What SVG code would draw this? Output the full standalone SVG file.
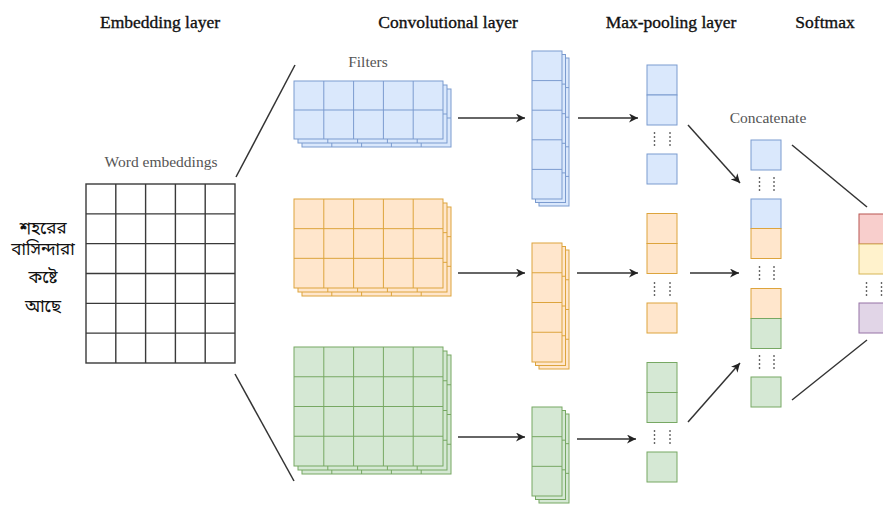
<svg xmlns="http://www.w3.org/2000/svg" xmlns:xlink="http://www.w3.org/1999/xlink" width="883" height="506" viewBox="0 0 883 506">
<style>
.hd{font-family:"Liberation Serif","Times New Roman",serif;font-size:17.5px;fill:#111;stroke:#111;stroke-width:0.35;text-anchor:middle}
.lb{font-family:"Liberation Serif","Times New Roman",serif;font-size:15.5px;fill:#555;text-anchor:middle}
.bn{font-family:"Noto Sans Bengali","Noto Sans","Noto Serif Bengali",sans-serif;font-size:17px;fill:#111;text-anchor:middle}
.b{fill:#dae8fc;stroke:#7b9bcf;stroke-width:1}
.o{fill:#ffe6cc;stroke:#dda43c;stroke-width:1}
.g{fill:#d5e8d4;stroke:#77a863;stroke-width:1}
.r{fill:#f8cecc;stroke:#b85450;stroke-width:1}
.y{fill:#fff2cc;stroke:#d6b656;stroke-width:1}
.p{fill:#e1d5e7;stroke:#9673a6;stroke-width:1}
.gl{fill:none}
.emb{fill:#fff;stroke:#3a3a3a;stroke-width:1.4}
.ln{stroke:#333;stroke-width:1.5;fill:none}
.ar{stroke:#333;stroke-width:1.5;fill:none;marker-end:url(#ah)}
.dt{stroke:#666;stroke-width:1.4;stroke-dasharray:2 2;fill:none}
</style>
<defs>
<marker id="ah" viewBox="0 0 10 10" refX="10" refY="5" markerWidth="9" markerHeight="9" markerUnits="userSpaceOnUse" orient="auto">
<path d="M0 0L10 5L0 10L3 5z" fill="#222"/>
</marker>
<g id="fB"><rect width="149" height="58"/><path class="gl" d="M29.8 0v58M59.6 0v58M89.4 0v58M119.2 0v58M0 29h149"/></g>
<g id="fO"><rect width="149" height="89"/><path class="gl" d="M29.8 0v89M59.6 0v89M89.4 0v89M119.2 0v89M0 29.67h149M0 59.33h149"/></g>
<g id="fG"><rect width="149" height="119"/><path class="gl" d="M29.8 0v119M59.6 0v119M89.4 0v119M119.2 0v119M0 29.75h149M0 59.5h149M0 89.25h149"/></g>
<g id="cB"><rect width="30" height="148"/><path class="gl" d="M0 29.6h30M0 59.2h30M0 88.8h30M0 118.4h30"/></g>
<g id="cO"><rect width="30" height="119"/><path class="gl" d="M0 29.75h30M0 59.5h30M0 89.25h30"/></g>
<g id="cG"><rect width="30" height="89"/><path class="gl" d="M0 29.67h30M0 59.33h30"/></g>
</defs>
<rect width="883" height="506" fill="#fff"/>

<g id="headers">
<text class="hd" x="160" y="28">Embedding layer</text>
<text class="hd" x="448" y="28">Convolutional layer</text>
<text class="hd" x="671" y="28">Max-pooling layer</text>
<text class="hd" x="825" y="28">Softmax</text>
</g>

<g id="sentence">
<text class="bn" x="43" y="234">শহরের</text>
<text class="bn" x="43" y="255">বাসিন্দারা</text>
<text class="bn" x="43" y="283">কষ্টে</text>
<text class="bn" x="43" y="312">আছে</text>
</g>

<g id="embedding">
<text class="lb" x="161" y="167">Word embeddings</text>
<rect class="emb" x="86" y="184" width="149" height="179"/>
<path class="emb" d="M115.8 184v179M145.6 184v179M175.4 184v179M205.2 184v179M86 213.83h149M86 243.67h149M86 273.5h149M86 303.33h149M86 333.17h149"/>
</g>

<g id="filters-blue" class="b">
<text class="lb" x="368" y="67" style="stroke:none">Filters</text>
<use xlink:href="#fB" x="302" y="89"/>
<use xlink:href="#fB" x="298" y="85"/>
<use xlink:href="#fB" x="294" y="81"/>
</g>
<g id="filters-orange" class="o">
<use xlink:href="#fO" x="302" y="207"/>
<use xlink:href="#fO" x="298" y="203"/>
<use xlink:href="#fO" x="294" y="199"/>
</g>
<g id="filters-green" class="g">
<use xlink:href="#fG" x="302" y="355"/>
<use xlink:href="#fG" x="298" y="351"/>
<use xlink:href="#fG" x="294" y="347"/>
</g>

<g id="conv-blue" class="b">
<use xlink:href="#cB" x="539" y="58"/>
<use xlink:href="#cB" x="535.5" y="54.5"/>
<use xlink:href="#cB" x="532" y="51"/>
</g>
<g id="conv-orange" class="o">
<use xlink:href="#cO" x="539" y="250"/>
<use xlink:href="#cO" x="535.5" y="246.5"/>
<use xlink:href="#cO" x="532" y="243"/>
</g>
<g id="conv-green" class="g">
<use xlink:href="#cG" x="539" y="414"/>
<use xlink:href="#cG" x="535.5" y="410.5"/>
<use xlink:href="#cG" x="532" y="407"/>
</g>

<g id="pool-blue">
<rect class="b" x="647" y="65" width="30" height="30"/>
<rect class="b" x="647" y="95" width="30" height="30"/>
<path class="dt" d="M654.5 132v15M670 132v15"/>
<rect class="b" x="647" y="154" width="30" height="30"/>
</g>
<g id="pool-orange">
<rect class="o" x="647" y="213.5" width="30" height="30"/>
<rect class="o" x="647" y="243.5" width="30" height="30"/>
<path class="dt" d="M654.5 282v15M670 282v15"/>
<rect class="o" x="647" y="303" width="30" height="30"/>
</g>
<g id="pool-green">
<rect class="g" x="647" y="362.5" width="30" height="30"/>
<rect class="g" x="647" y="392.5" width="30" height="30"/>
<path class="dt" d="M654.5 430v15M670 430v15"/>
<rect class="g" x="647" y="452" width="30" height="30"/>
</g>

<g id="concatenate">
<text class="lb" x="768" y="123">Concatenate</text>
<rect class="b" x="751" y="140" width="30" height="30"/>
<path class="dt" d="M759.5 177v15M774 177v15"/>
<rect class="b" x="751" y="199" width="30" height="29.5"/>
<rect class="o" x="751" y="228.5" width="30" height="30"/>
<path class="dt" d="M759.5 266v15M774 266v15"/>
<rect class="o" x="751" y="288.5" width="30" height="30"/>
<rect class="g" x="751" y="318.5" width="30" height="30"/>
<path class="dt" d="M759.5 355v15M774 355v15"/>
<rect class="g" x="751" y="377" width="30" height="30"/>
</g>

<g id="softmax">
<rect class="r" x="859" y="214" width="30" height="30"/>
<rect class="y" x="859" y="244" width="30" height="30"/>
<path class="dt" d="M866.5 282v15M881.5 282v15"/>
<rect class="p" x="859" y="303" width="30" height="30"/>
</g>

<g id="connectors">
<path class="ln" d="M236 177L295 65"/>
<path class="ln" d="M235 374L294 481"/>
<path class="ar" d="M458 118H525"/>
<path class="ar" d="M458 273H525"/>
<path class="ar" d="M458 437H525"/>
<path class="ar" d="M578 118H638"/>
<path class="ar" d="M577 273H638"/>
<path class="ar" d="M577 439H636"/>
<path class="ar" d="M688 125L740 183"/>
<path class="ar" d="M690 273H739"/>
<path class="ar" d="M688 422L740 363"/>
<path class="ln" d="M792 145L867 207"/>
<path class="ln" d="M792 400L867 340"/>
</g>
</svg>
